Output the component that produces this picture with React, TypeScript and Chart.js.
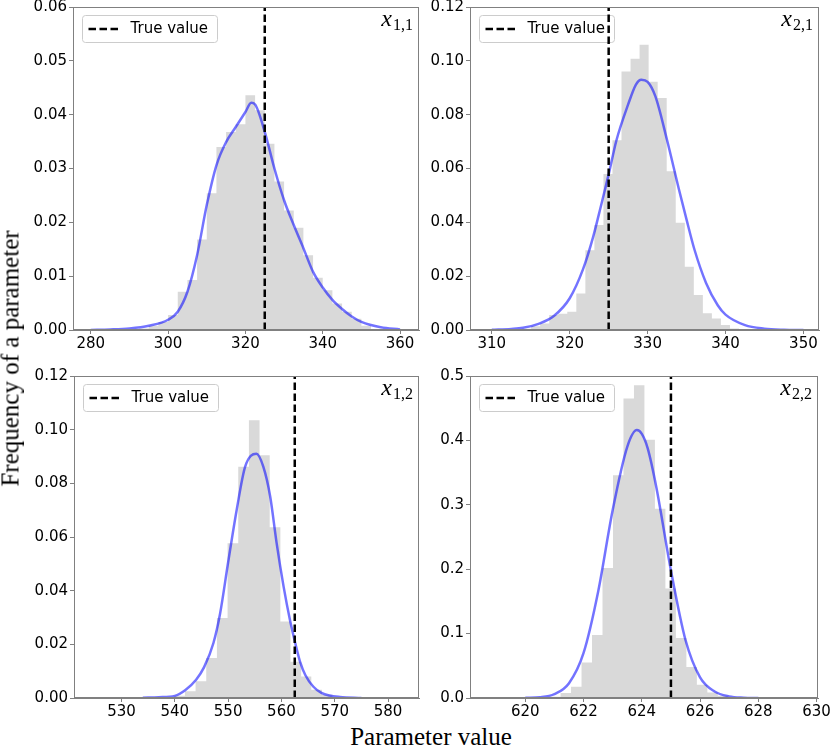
import React, { useEffect, useRef } from "react";
import { Chart, registerables } from "chart.js";

Chart.register(...registerables);

// ---------- Text ----------
const LEGEND_LABEL = "True value";
const X_LABEL = "Parameter value";
const Y_LABEL = "Frequency of a parameter";

// ---------- Panel x_{1,1} ----------
const TL_BIN_EDGES = [292.5, 295, 297.5, 300, 302.5, 305, 307.5, 310, 312.5, 315, 317.5, 320, 322.5, 325, 327.5, 330, 332.5, 335, 337.5, 340, 342.5, 345, 347.5, 350, 352.5];
const TL_BIN_HEIGHTS = [0.0003, 0.0008, 0.0015, 0.0028, 0.0071, 0.0093, 0.0168, 0.0254, 0.034, 0.0368, 0.0382, 0.0436, 0.0408, 0.0346, 0.0276, 0.0222, 0.019, 0.0139, 0.0097, 0.0074, 0.0049, 0.0034, 0.0021, 0.0008];
const TL_KDE_X = [280, 285, 290, 295, 300, 302.5, 305, 307.5, 310, 312.5, 315, 317.5, 320, 321.5, 322.5, 325, 327.5, 330, 332.5, 335, 337.5, 340, 342.5, 345, 347.5, 350, 355, 360];
const TL_KDE_Y = [0.0, 0.0001, 0.0003, 0.0008, 0.0019, 0.0034, 0.0071, 0.0139, 0.0232, 0.0306, 0.0349, 0.0377, 0.0405, 0.0422, 0.0419, 0.0368, 0.030, 0.0241, 0.0195, 0.0152, 0.0108, 0.0079, 0.0056, 0.0039, 0.0025, 0.0015, 0.0005, 0.0001];
const TL_TRUE_VALUE = 325;
const TL_X_TICKS = [280, 300, 320, 340, 360];
const TL_Y_TICKS = [0, 0.01, 0.02, 0.03, 0.04, 0.05, 0.06];

// ---------- Panel x_{2,1} ----------
const TR_BIN_EDGES = [313.89, 315.05, 316.21, 317.37, 318.53, 319.69, 320.85, 322.01, 323.17, 324.33, 325.49, 326.65, 327.81, 328.97, 330.13, 331.29, 332.45, 333.61, 334.77, 335.93, 337.09, 338.25, 339.41, 340.57, 341.73];
const TR_BIN_HEIGHTS = [0.0005, 0.0014, 0.0024, 0.0056, 0.006, 0.0068, 0.0136, 0.0296, 0.039, 0.058, 0.0705, 0.096, 0.1008, 0.106, 0.0922, 0.0862, 0.059, 0.0398, 0.0235, 0.013, 0.0062, 0.0043, 0.0019, 0.0006];
const TR_KDE_X = [310, 312.5, 314, 316, 318, 320, 321.7, 323, 324, 325, 326, 327.5, 328.5, 329.2, 330, 331, 332.5, 334, 335, 336, 337.5, 339, 340, 342.5, 345, 347.5, 350];
const TR_KDE_Y = [0.0001, 0.0004, 0.0008, 0.0023, 0.0053, 0.0118, 0.0225, 0.0345, 0.046, 0.0578, 0.0705, 0.0838, 0.0912, 0.093, 0.0922, 0.0868, 0.0705, 0.0525, 0.041, 0.030, 0.0175, 0.0092, 0.0057, 0.0018, 0.0005, 0.0001, 0.0];
const TR_TRUE_VALUE = 325;
const TR_X_TICKS = [310, 320, 330, 340, 350];
const TR_Y_TICKS = [0, 0.02, 0.04, 0.06, 0.08, 0.1, 0.12];

// ---------- Panel x_{1,2} ----------
const BL_BIN_EDGES = [539.9, 541.9, 543.9, 545.9, 547.9, 549.9, 551.9, 553.9, 555.9, 557.8, 559.8, 561.7, 563.7, 565.6, 567.6, 569.6];
const BL_BIN_HEIGHTS = [0.0008, 0.0025, 0.0062, 0.0149, 0.0298, 0.0577, 0.0862, 0.1035, 0.0905, 0.0636, 0.0285, 0.0135, 0.008, 0.0031, 0.0012];
const BL_KDE_X = [534, 537, 540, 542, 544, 545.5, 547.25, 548.5, 550, 551.6, 553.2, 555.3, 556.6, 557.9, 559.1, 560.4, 561.6, 562.9, 563.5, 564.5, 566, 567.5, 569, 571, 575];
const BL_KDE_Y = [0.0001, 0.0003, 0.0008, 0.003, 0.0068, 0.0115, 0.0205, 0.0315, 0.0505, 0.07, 0.0862, 0.091, 0.0862, 0.075, 0.0577, 0.0416, 0.0291, 0.018, 0.0135, 0.0085, 0.0042, 0.0019, 0.0009, 0.0004, 0.0];
const BL_TRUE_VALUE = 562.5;
const BL_X_TICKS = [530, 540, 550, 560, 570, 580];
const BL_Y_TICKS = [0, 0.02, 0.04, 0.06, 0.08, 0.1, 0.12];

// ---------- Panel x_{2,2} ----------
const BR_BIN_EDGES = [620.85, 621.21, 621.57, 621.93, 622.29, 622.65, 623.01, 623.37, 623.73, 624.09, 624.45, 624.81, 625.17, 625.53, 625.89, 626.25, 626.61, 626.97, 627.33];
const BR_BIN_HEIGHTS = [0.002, 0.0078, 0.0175, 0.055, 0.098, 0.202, 0.346, 0.465, 0.4856, 0.401, 0.294, 0.17, 0.093, 0.048, 0.0207, 0.0085, 0.0033, 0.001];
const BR_KDE_X = [620, 620.5, 621, 621.5, 622, 622.5, 623, 623.5, 623.83, 624, 624.2, 624.5, 625, 625.5, 626, 626.5, 627, 627.5, 628];
const BR_KDE_Y = [0.0003, 0.0012, 0.006, 0.023, 0.07, 0.165, 0.292, 0.39, 0.416, 0.41, 0.388, 0.327, 0.198, 0.09, 0.032, 0.01, 0.0025, 0.0005, 0.0];
const BR_TRUE_VALUE = 625;
const BR_X_TICKS = [620, 622, 624, 626, 628, 630];
const BR_Y_TICKS = [0, 0.1, 0.2, 0.3, 0.4, 0.5];

// ---------- Styles ----------
const SPINE = "#808080";
const HIST_COLOR = "#d9d9d9";
const KDE_COLOR = "rgba(0,0,255,0.55)";
const TICK_FONT = { family: "DejaVu Sans", size: 15 };
const SERIF = '"Liberation Serif", "Times New Roman", serif';

type Panel = {
  sub: string;
  edges: number[];
  heights: number[];
  kdeX: number[];
  kdeY: number[];
  trueValue: number;
  xTicks: number[];
  yTicks: number[];
  yDecimals: number;
  xMin: number;
  xMax: number;
  yMax: number;
  box: { left: number; top: number; width: number; height: number };
  yw: number;
  xh: number;
  pt: number;
  pr: number;
};

const PANELS: Panel[] = [
  {
    sub: "1,1", edges: TL_BIN_EDGES, heights: TL_BIN_HEIGHTS, kdeX: TL_KDE_X, kdeY: TL_KDE_Y,
    trueValue: TL_TRUE_VALUE, xTicks: TL_X_TICKS, yTicks: TL_Y_TICKS, yDecimals: 2,
    xMin: 275.4, xMax: 364.9, yMax: 0.06,
    box: { left: 20, top: -13, width: 405, height: 369 }, yw: 53, xh: 26, pt: 20, pr: 6,
  },
  {
    sub: "2,1", edges: TR_BIN_EDGES, heights: TR_BIN_HEIGHTS, kdeX: TR_KDE_X, kdeY: TR_KDE_Y,
    trueValue: TR_TRUE_VALUE, xTicks: TR_X_TICKS, yTicks: TR_Y_TICKS, yDecimals: 2,
    xMin: 307.2, xMax: 352.0, yMax: 0.12,
    box: { left: 425, top: -13, width: 406, height: 369 }, yw: 45, xh: 26, pt: 20, pr: 12,
  },
  {
    sub: "1,2", edges: BL_BIN_EDGES, heights: BL_BIN_HEIGHTS, kdeX: BL_KDE_X, kdeY: BL_KDE_Y,
    trueValue: BL_TRUE_VALUE, xTicks: BL_X_TICKS, yTicks: BL_Y_TICKS, yDecimals: 2,
    xMin: 521.1, xMax: 585.8, yMax: 0.12,
    box: { left: 20, top: 356, width: 405, height: 366 }, yw: 54, xh: 24, pt: 20, pr: 6,
  },
  {
    sub: "2,2", edges: BR_BIN_EDGES, heights: BR_BIN_HEIGHTS, kdeX: BR_KDE_X, kdeY: BR_KDE_Y,
    trueValue: BR_TRUE_VALUE, xTicks: BR_X_TICKS, yTicks: BR_Y_TICKS, yDecimals: 1,
    xMin: 618.1, xMax: 630.05, yMax: 0.5,
    box: { left: 425, top: 356, width: 406, height: 366 }, yw: 45, xh: 24, pt: 20, pr: 13,
  },
];

function histPoints(edges: number[], heights: number[]) {
  const pts: { x: number; y: number }[] = [];
  heights.forEach((h, i) => {
    pts.push({ x: edges[i], y: h });
    pts.push({ x: edges[i + 1], y: h });
  });
  return pts;
}

function PanelChart({ p }: { p: Panel }) {
  const ref = useRef<HTMLCanvasElement | null>(null);
  useEffect(() => {
    if (!ref.current) return;
    const decoPlugin = {
      id: "deco",
      beforeDatasetsDraw(chart: any) {
        const { ctx, chartArea } = chart;
        const bx = chartArea.left + 9.5;
        const by = chartArea.top + 8.5;
        const bw = 135;
        const bh = 27;
        ctx.save();
        ctx.beginPath();
        const r = 3;
        ctx.moveTo(bx + r, by);
        ctx.lineTo(bx + bw - r, by);
        ctx.arcTo(bx + bw, by, bx + bw, by + r, r);
        ctx.lineTo(bx + bw, by + bh - r);
        ctx.arcTo(bx + bw, by + bh, bx + bw - r, by + bh, r);
        ctx.lineTo(bx + r, by + bh);
        ctx.arcTo(bx, by + bh, bx, by + bh - r, r);
        ctx.lineTo(bx, by + r);
        ctx.arcTo(bx, by, bx + r, by, r);
        ctx.closePath();
        ctx.fillStyle = "rgba(255,255,255,0.8)";
        ctx.fill();
        ctx.strokeStyle = "#cccccc";
        ctx.lineWidth = 1;
        ctx.stroke();
        ctx.beginPath();
        ctx.setLineDash([7.5, 3.5]);
        ctx.strokeStyle = "#000";
        ctx.lineWidth = 2.5;
        ctx.moveTo(bx + 6, by + bh / 2);
        ctx.lineTo(bx + 36, by + bh / 2);
        ctx.stroke();
        ctx.setLineDash([]);
        ctx.fillStyle = "#000";
        ctx.font = '15px "DejaVu Sans"';
        ctx.textBaseline = "middle";
        ctx.textAlign = "left";
        ctx.fillText(LEGEND_LABEL, bx + 48, by + bh / 2 + 0.5);
        ctx.restore();
      },
      afterDatasetsDraw(chart: any) {
        const { ctx, chartArea } = chart;
        ctx.save();
        ctx.strokeStyle = SPINE;
        ctx.lineWidth = 1;
        ctx.strokeRect(
          Math.round(chartArea.left) + 0.5,
          Math.round(chartArea.top) + 0.5,
          Math.round(chartArea.right - chartArea.left) - 1,
          Math.round(chartArea.bottom - chartArea.top) - 1
        );
        ctx.fillStyle = "#000";
        ctx.textBaseline = "alphabetic";
        ctx.textAlign = "left";
        const subFont = `16px ${SERIF}`;
        const mainFont = `italic 24px ${SERIF}`;
        ctx.font = subFont;
        const subW = ctx.measureText(p.sub).width;
        ctx.font = mainFont;
        const xW = ctx.measureText("x").width;
        const right = chartArea.right - 6;
        const baseY = chartArea.top + 19;
        ctx.fillText("x", right - subW - xW - 1, baseY);
        ctx.font = subFont;
        ctx.fillText(p.sub, right - subW, baseY + 4);
        ctx.restore();
      },
    };

    const chart = new Chart(ref.current, {
      type: "line",
      data: {
        datasets: [
          {
            data: [
              { x: p.trueValue, y: 0 },
              { x: p.trueValue, y: p.yMax },
            ],
            borderColor: "#000",
            borderWidth: 2.5,
            borderDash: [7.5, 3.5],
            pointRadius: 0,
            fill: false,
            order: 1,
          },
          {
            data: p.kdeX.map((x, i) => ({ x, y: p.kdeY[i] })),
            borderColor: KDE_COLOR,
            borderWidth: 2.5,
            pointRadius: 0,
            cubicInterpolationMode: "monotone",
            fill: false,
            order: 2,
          },
          {
            data: histPoints(p.edges, p.heights),
            borderColor: "rgba(0,0,0,0)",
            borderWidth: 0,
            backgroundColor: HIST_COLOR,
            pointRadius: 0,
            tension: 0,
            fill: "origin",
            order: 3,
          },
        ] as any,
      },
      options: {
        responsive: false,
        animation: false,
        devicePixelRatio: 1,
        events: [],
        layout: { padding: { top: p.pt, right: p.pr, left: 0, bottom: 0 } },
        plugins: { legend: { display: false }, tooltip: { enabled: false } },
        scales: {
          x: {
            type: "linear",
            min: p.xMin,
            max: p.xMax,
            afterBuildTicks: (s: any) => {
              s.ticks = p.xTicks.map((v) => ({ value: v }));
            },
            afterFit: (s: any) => {
              s.height = p.xh;
              s.paddingLeft = 0;
              s.paddingRight = 0;
            },
            ticks: {
              font: TICK_FONT,
              color: "#000",
              padding: 1,
              autoSkip: false,
              maxRotation: 0,
              callback: (v: any) => String(v),
            },
            grid: { display: true, drawOnChartArea: false, drawTicks: true, tickLength: 4, color: SPINE },
            border: { display: true, color: SPINE, width: 1 },
          },
          y: {
            type: "linear",
            min: 0,
            max: p.yMax,
            afterBuildTicks: (s: any) => {
              s.ticks = p.yTicks.map((v) => ({ value: v }));
            },
            afterFit: (s: any) => {
              s.width = p.yw;
              s.paddingTop = 0;
              s.paddingBottom = 0;
            },
            ticks: {
              font: TICK_FONT,
              color: "#000",
              padding: 2,
              autoSkip: false,
              callback: (v: any) => Number(v).toFixed(p.yDecimals),
            },
            grid: { display: true, drawOnChartArea: false, drawTicks: true, tickLength: 4, color: SPINE },
            border: { display: true, color: SPINE, width: 1 },
          },
        },
      } as any,
      plugins: [decoPlugin],
    });
    return () => chart.destroy();
  }, [p]);

  return (
    <canvas
      ref={ref}
      width={p.box.width}
      height={p.box.height}
      style={{
        position: "absolute",
        left: p.box.left,
        top: p.box.top,
        width: p.box.width,
        height: p.box.height,
      }}
    />
  );
}

export default function App() {
  return (
    <div
      style={{
        position: "fixed",
        left: 0,
        top: 0,
        width: 831,
        height: 747,
        overflow: "hidden",
        background: "#fff",
      }}
    >
      {PANELS.map((p) => (
        <PanelChart key={p.sub} p={p} />
      ))}
      <div
        style={{
          position: "absolute",
          left: 0,
          top: 724,
          width: 862,
          height: 25,
          lineHeight: "25px",
          textAlign: "center",
          fontFamily: SERIF,
          fontSize: 25,
          color: "#000",
          whiteSpace: "nowrap",
        }}
      >
        {X_LABEL}
      </div>
      <div
        style={{
          position: "absolute",
          left: 9.6 - 200,
          top: 358 - 12.5,
          width: 400,
          height: 25,
          lineHeight: "25px",
          textAlign: "center",
          fontFamily: SERIF,
          fontSize: 25,
          color: "#000",
          whiteSpace: "nowrap",
          transform: "rotate(-90deg)",
        }}
      >
        {Y_LABEL}
      </div>
    </div>
  );
}
